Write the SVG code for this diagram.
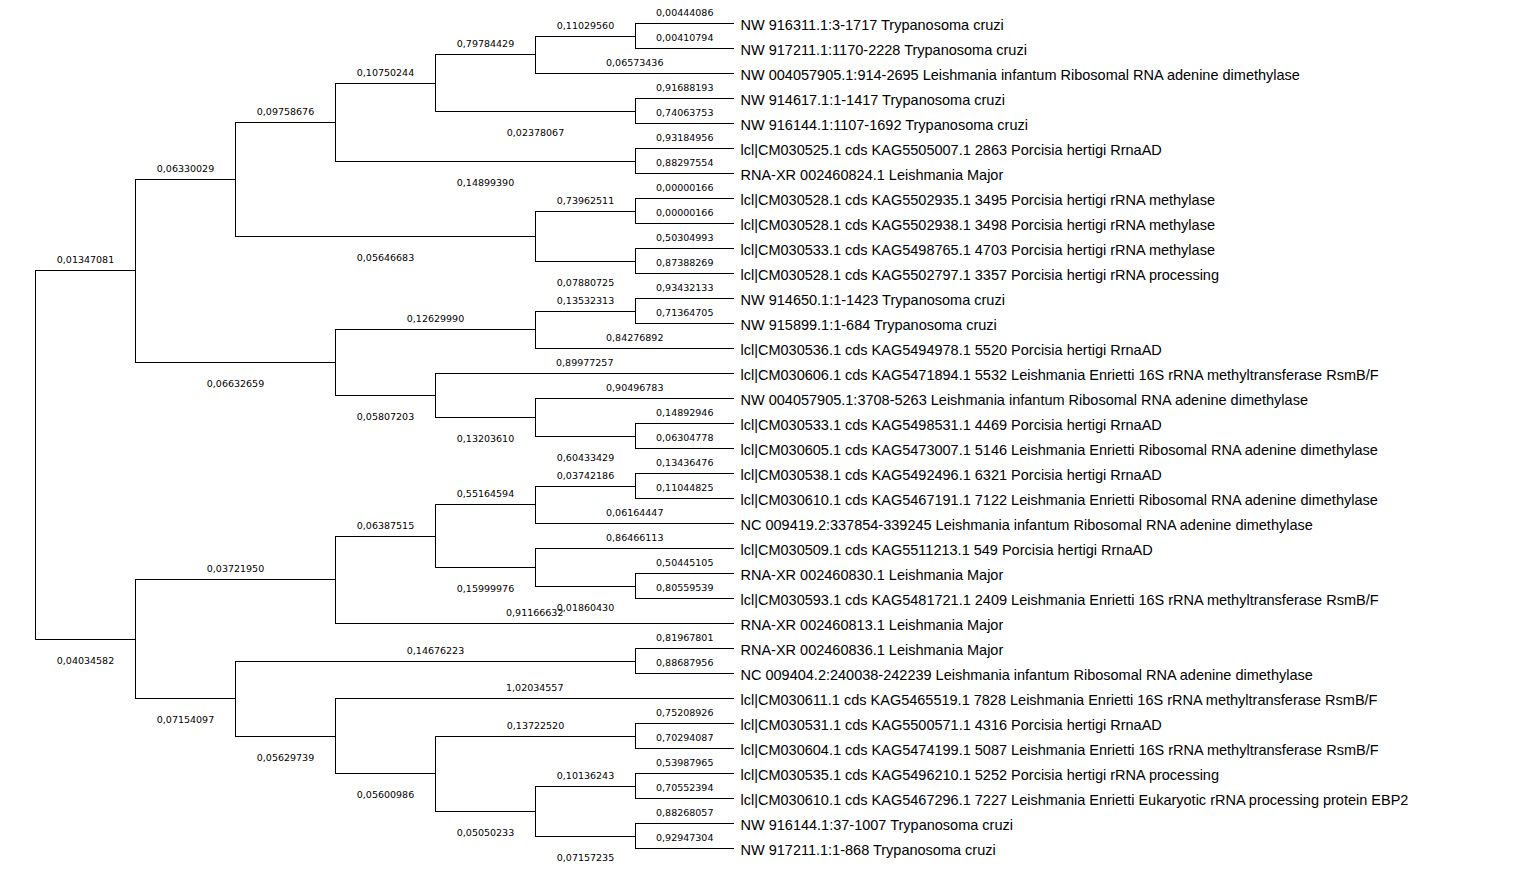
<svg xmlns="http://www.w3.org/2000/svg" width="1539" height="880" viewBox="0 0 1539 880">
<style>
.br{fill:none;stroke:#000;stroke-width:1;shape-rendering:crispEdges}
.lf{font-family:"Liberation Sans",Arial,sans-serif;font-size:14.5px;fill:#000}
.bl{font-family:"DejaVu Sans",Verdana,sans-serif;font-size:9.5px;text-anchor:middle;fill:#000}
</style>
<rect x="0" y="0" width="1539" height="880" fill="#fff"/>
<g id="connectors" class="br">
<path d="M35.5 454.75V270.5H135.5M35.5 454.75V639H135.5"/>
<path d="M135.5 270.5V179H235.5M135.5 270.5V362.5H335.5"/>
<path d="M235.5 179V122H335.5M235.5 179V236H535.5"/>
<path d="M335.5 122V83H435.5M335.5 122V161H635.5"/>
<path d="M435.5 83V54.5H535.5M435.5 83V111H635.5"/>
<path d="M535.5 54.5V36H635.5"/>
<path d="M535.5 236V211H635.5M535.5 236V261H635.5"/>
<path d="M335.5 362.5V329.5H535.5M335.5 362.5V395.5H435.5"/>
<path d="M535.5 329.5V311H635.5"/>
<path d="M435.5 395.5V417H535.5"/>
<path d="M535.5 417V436H635.5"/>
<path d="M135.5 639V579.5H335.5M135.5 639V698.5H235.5"/>
<path d="M335.5 579.5V536H435.5"/>
<path d="M435.5 536V504.5H535.5M435.5 536V567H535.5"/>
<path d="M535.5 504.5V486H635.5"/>
<path d="M535.5 567V586H635.5"/>
<path d="M235.5 698.5V661H635.5M235.5 698.5V736H335.5"/>
<path d="M335.5 736V773.5H435.5"/>
<path d="M435.5 773.5V736H635.5M435.5 773.5V811H535.5"/>
<path d="M535.5 811V786H635.5M535.5 811V836H635.5"/>
<path d="M635.5 36V23.5H734M635.5 36V48.5H734"/>
<path d="M535.5 54.5V73.5H734"/>
<path d="M635.5 111V98.5H734M635.5 111V123.5H734"/>
<path d="M635.5 161V148.5H734M635.5 161V173.5H734"/>
<path d="M635.5 211V198.5H734M635.5 211V223.5H734"/>
<path d="M635.5 261V248.5H734M635.5 261V273.5H734"/>
<path d="M635.5 311V298.5H734M635.5 311V323.5H734"/>
<path d="M535.5 329.5V348.5H734"/>
<path d="M435.5 395.5V373.5H734"/>
<path d="M535.5 417V398.5H734"/>
<path d="M635.5 436V423.5H734M635.5 436V448.5H734"/>
<path d="M635.5 486V473.5H734M635.5 486V498.5H734"/>
<path d="M535.5 504.5V523.5H734"/>
<path d="M535.5 567V548.5H734"/>
<path d="M635.5 586V573.5H734M635.5 586V598.5H734"/>
<path d="M335.5 579.5V623.5H734"/>
<path d="M635.5 661V648.5H734M635.5 661V673.5H734"/>
<path d="M335.5 736V698.5H734"/>
<path d="M635.5 736V723.5H734M635.5 736V748.5H734"/>
<path d="M635.5 786V773.5H734M635.5 786V798.5H734"/>
<path d="M635.5 836V823.5H734M635.5 836V848.5H734"/>
</g>
<g id="branch-labels" class="bl">
<text x="684.75" y="16">0,00444086</text>
<text x="684.75" y="41">0,00410794</text>
<text x="634.75" y="66">0,06573436</text>
<text x="684.75" y="91">0,91688193</text>
<text x="684.75" y="116">0,74063753</text>
<text x="684.75" y="141">0,93184956</text>
<text x="684.75" y="166">0,88297554</text>
<text x="684.75" y="191">0,00000166</text>
<text x="684.75" y="216">0,00000166</text>
<text x="684.75" y="241">0,50304993</text>
<text x="684.75" y="266">0,87388269</text>
<text x="684.75" y="291">0,93432133</text>
<text x="684.75" y="316">0,71364705</text>
<text x="634.75" y="341">0,84276892</text>
<text x="584.75" y="366">0,89977257</text>
<text x="634.75" y="391">0,90496783</text>
<text x="684.75" y="416">0,14892946</text>
<text x="684.75" y="441">0,06304778</text>
<text x="684.75" y="466">0,13436476</text>
<text x="684.75" y="491">0,11044825</text>
<text x="634.75" y="516">0,06164447</text>
<text x="634.75" y="541">0,86466113</text>
<text x="684.75" y="566">0,50445105</text>
<text x="684.75" y="591">0,80559539</text>
<text x="534.75" y="616">0,91166632</text>
<text x="684.75" y="641">0,81967801</text>
<text x="684.75" y="666">0,88687956</text>
<text x="534.75" y="691">1,02034557</text>
<text x="684.75" y="716">0,75208926</text>
<text x="684.75" y="741">0,70294087</text>
<text x="684.75" y="766">0,53987965</text>
<text x="684.75" y="791">0,70552394</text>
<text x="684.75" y="816">0,88268057</text>
<text x="684.75" y="841">0,92947304</text>
<text x="585.5" y="28.5">0,11029560</text>
<text x="485.5" y="47">0,79784429</text>
<text x="535.5" y="135.5">0,02378067</text>
<text x="385.5" y="75.5">0,10750244</text>
<text x="485.5" y="185.5">0,14899390</text>
<text x="285.5" y="114.5">0,09758676</text>
<text x="585.5" y="203.5">0,73962511</text>
<text x="585.5" y="285.5">0,07880725</text>
<text x="385.5" y="260.5">0,05646683</text>
<text x="185.5" y="171.5">0,06330029</text>
<text x="85.5" y="263">0,01347081</text>
<text x="585.5" y="303.5">0,13532313</text>
<text x="435.5" y="322">0,12629990</text>
<text x="585.5" y="460.5">0,60433429</text>
<text x="485.5" y="441.5">0,13203610</text>
<text x="385.5" y="420">0,05807203</text>
<text x="235.5" y="387">0,06632659</text>
<text x="585.5" y="478.5">0,03742186</text>
<text x="485.5" y="497">0,55164594</text>
<text x="585.5" y="610.5">0,01860430</text>
<text x="485.5" y="591.5">0,15999976</text>
<text x="385.5" y="528.5">0,06387515</text>
<text x="235.5" y="572">0,03721950</text>
<text x="435.5" y="653.5">0,14676223</text>
<text x="535.5" y="728.5">0,13722520</text>
<text x="585.5" y="778.5">0,10136243</text>
<text x="585.5" y="860.5">0,07157235</text>
<text x="485.5" y="835.5">0,05050233</text>
<text x="385.5" y="798">0,05600986</text>
<text x="285.5" y="760.5">0,05629739</text>
<text x="185.5" y="723">0,07154097</text>
<text x="85.5" y="663.5">0,04034582</text>
</g>
<g class="lf">
<g id="leaf01"><text x="740.5" y="29.5">NW 916311.1:3-1717 Trypanosoma cruzi</text></g>
<g id="leaf02"><text x="740.5" y="54.5">NW 917211.1:1170-2228 Trypanosoma cruzi</text></g>
<g id="leaf03"><text x="740.5" y="79.5">NW 004057905.1:914-2695 Leishmania infantum Ribosomal RNA adenine dimethylase</text></g>
<g id="leaf04"><text x="740.5" y="104.5">NW 914617.1:1-1417 Trypanosoma cruzi</text></g>
<g id="leaf05"><text x="740.5" y="129.5">NW 916144.1:1107-1692 Trypanosoma cruzi</text></g>
<g id="leaf06"><text x="740.5" y="154.5">lcl|CM030525.1 cds KAG5505007.1 2863 Porcisia hertigi RrnaAD</text></g>
<g id="leaf07"><text x="740.5" y="179.5">RNA-XR 002460824.1 Leishmania Major</text></g>
<g id="leaf08"><text x="740.5" y="204.5">lcl|CM030528.1 cds KAG5502935.1 3495 Porcisia hertigi rRNA methylase</text></g>
<g id="leaf09"><text x="740.5" y="229.5">lcl|CM030528.1 cds KAG5502938.1 3498 Porcisia hertigi rRNA methylase</text></g>
<g id="leaf10"><text x="740.5" y="254.5">lcl|CM030533.1 cds KAG5498765.1 4703 Porcisia hertigi rRNA methylase</text></g>
<g id="leaf11"><text x="740.5" y="279.5">lcl|CM030528.1 cds KAG5502797.1 3357 Porcisia hertigi rRNA processing</text></g>
<g id="leaf12"><text x="740.5" y="304.5">NW 914650.1:1-1423 Trypanosoma cruzi</text></g>
<g id="leaf13"><text x="740.5" y="329.5">NW 915899.1:1-684 Trypanosoma cruzi</text></g>
<g id="leaf14"><text x="740.5" y="354.5">lcl|CM030536.1 cds KAG5494978.1 5520 Porcisia hertigi RrnaAD</text></g>
<g id="leaf15"><text x="740.5" y="379.5">lcl|CM030606.1 cds KAG5471894.1 5532 Leishmania Enrietti 16S rRNA methyltransferase RsmB/F</text></g>
<g id="leaf16"><text x="740.5" y="404.5">NW 004057905.1:3708-5263 Leishmania infantum Ribosomal RNA adenine dimethylase</text></g>
<g id="leaf17"><text x="740.5" y="429.5">lcl|CM030533.1 cds KAG5498531.1 4469 Porcisia hertigi RrnaAD</text></g>
<g id="leaf18"><text x="740.5" y="454.5">lcl|CM030605.1 cds KAG5473007.1 5146 Leishmania Enrietti Ribosomal RNA adenine dimethylase</text></g>
<g id="leaf19"><text x="740.5" y="479.5">lcl|CM030538.1 cds KAG5492496.1 6321 Porcisia hertigi RrnaAD</text></g>
<g id="leaf20"><text x="740.5" y="504.5">lcl|CM030610.1 cds KAG5467191.1 7122 Leishmania Enrietti Ribosomal RNA adenine dimethylase</text></g>
<g id="leaf21"><text x="740.5" y="529.5">NC 009419.2:337854-339245 Leishmania infantum Ribosomal RNA adenine dimethylase</text></g>
<g id="leaf22"><text x="740.5" y="554.5">lcl|CM030509.1 cds KAG5511213.1 549 Porcisia hertigi RrnaAD</text></g>
<g id="leaf23"><text x="740.5" y="579.5">RNA-XR 002460830.1 Leishmania Major</text></g>
<g id="leaf24"><text x="740.5" y="604.5">lcl|CM030593.1 cds KAG5481721.1 2409 Leishmania Enrietti 16S rRNA methyltransferase RsmB/F</text></g>
<g id="leaf25"><text x="740.5" y="629.5">RNA-XR 002460813.1 Leishmania Major</text></g>
<g id="leaf26"><text x="740.5" y="654.5">RNA-XR 002460836.1 Leishmania Major</text></g>
<g id="leaf27"><text x="740.5" y="679.5">NC 009404.2:240038-242239 Leishmania infantum Ribosomal RNA adenine dimethylase</text></g>
<g id="leaf28"><text x="740.5" y="704.5">lcl|CM030611.1 cds KAG5465519.1 7828 Leishmania Enrietti 16S rRNA methyltransferase RsmB/F</text></g>
<g id="leaf29"><text x="740.5" y="729.5">lcl|CM030531.1 cds KAG5500571.1 4316 Porcisia hertigi RrnaAD</text></g>
<g id="leaf30"><text x="740.5" y="754.5">lcl|CM030604.1 cds KAG5474199.1 5087 Leishmania Enrietti 16S rRNA methyltransferase RsmB/F</text></g>
<g id="leaf31"><text x="740.5" y="779.5">lcl|CM030535.1 cds KAG5496210.1 5252 Porcisia hertigi rRNA processing</text></g>
<g id="leaf32"><text x="740.5" y="804.5">lcl|CM030610.1 cds KAG5467296.1 7227 Leishmania Enrietti Eukaryotic rRNA processing protein EBP2</text></g>
<g id="leaf33"><text x="740.5" y="829.5">NW 916144.1:37-1007 Trypanosoma cruzi</text></g>
<g id="leaf34"><text x="740.5" y="854.5">NW 917211.1:1-868 Trypanosoma cruzi</text></g>
</g>
</svg>
